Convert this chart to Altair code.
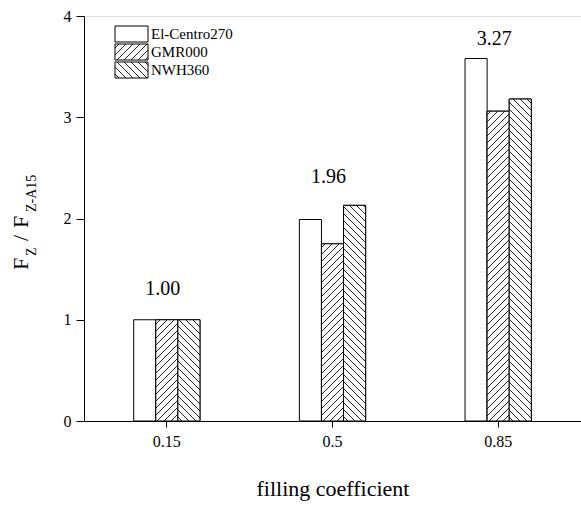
import altair as alt
import pandas as pd

# ---------------- data ----------------
categories = ["0.15", "0.5", "0.85"]
series = ["El-Centro270", "GMR000", "NWH360"]
el_centro = [1.00, 1.99, 3.58]
gmr000 = [1.00, 1.75, 3.06]
nwh360 = [1.00, 2.13, 3.18]
group_labels = ["1.00", "1.96", "3.27"]
label_y = [1.30, 2.41, 3.77]

# ---------------- layout ----------------
FONT = "Times New Roman, Liberation Serif, Times, serif"
W, H = 497, 405
YMAX = 4
PAD_INNER, PAD_OUTER = 0.6, 0.3
step = W / (len(categories) - PAD_INNER + 2 * PAD_OUTER)
bar_w = step * (1 - PAD_INNER) / len(series)
px_per_unit = H / YMAX


def hatch(w, h, kind, period=7.0, lw=1.1, ink="#222222"):
    """Diagonal hatching as a hard-stop linear gradient (45 degrees in pixel space)."""
    L = w + h
    k = L / (w * w + h * h)
    gu, gv = k * w, k * h
    if kind == "/":
        x1, y1, x2, y2 = 0, 0, gu, gv
    else:
        x1, y1, x2, y2 = 0, 1, gu, 1 - gv
    stops = [alt.GradientStop(color="white", offset=0)]
    pos = period / 2
    while pos + lw < L:
        a = round(pos / L, 6)
        b = round((pos + lw) / L, 6)
        stops += [
            alt.GradientStop(color="white", offset=a),
            alt.GradientStop(color=ink, offset=a),
            alt.GradientStop(color=ink, offset=b),
            alt.GradientStop(color="white", offset=b),
        ]
        pos += period
    stops.append(alt.GradientStop(color="white", offset=1))
    return alt.LinearGradient(gradient="linear", stops=stops,
                              x1=x1, y1=y1, x2=x2, y2=y2)


values_by_series = {"El-Centro270": el_centro, "GMR000": gmr000, "NWH360": nwh360}
rows = []
for i, c in enumerate(categories):
    for s in series:
        rows.append({"coef": c, "series": s, "value": values_by_series[s][i]})
df = pd.DataFrame(rows)

df_lab = pd.DataFrame({"coef": categories, "label": group_labels, "value": label_y})
one = pd.DataFrame({"k": [0]})

x_enc = alt.X(
    "coef:N", sort=categories,
    scale=alt.Scale(paddingInner=PAD_INNER, paddingOuter=PAD_OUTER),
    axis=alt.Axis(title="filling coefficient", labelAngle=0, tickSize=6,
                  labelPadding=6, labelFontSize=16, labelFont=FONT,
                  titleFont=FONT, titleFontSize=22, titleFontWeight="normal",
                  titlePadding=29, domainColor="black", tickColor="black",
                  labelColor="black", titleColor="black", grid=False),
)
xo_enc = alt.XOffset("series:N", sort=series, scale=alt.Scale(domain=series))
y_enc = alt.Y(
    "value:Q", scale=alt.Scale(domain=[0, YMAX]),
    axis=alt.Axis(title=None, values=[0, 1, 2, 3, 4], format="d", tickSize=8,
                  labelPadding=5, labelFontSize=16, labelFont=FONT,
                  domainColor="black", tickColor="black", labelColor="black",
                  grid=False),
)

layers = []
base = alt.Chart(df).mark_bar(fill="white", stroke="black", strokeWidth=1).encode(
    x=x_enc, xOffset=xo_enc, y=y_enc)
layers.append(base)

for s, kind in [("GMR000", "/"), ("NWH360", "\\")]:
    for i, c in enumerate(categories):
        h = values_by_series[s][i] * px_per_unit
        layers.append(
            alt.Chart(df)
            .transform_filter((alt.datum.series == s) & (alt.datum.coef == c))
            .mark_bar(fill=hatch(bar_w, h, kind), stroke="black", strokeWidth=1)
            .encode(x=x_enc, xOffset=xo_enc, y=y_enc)
        )

# group value labels
layers.append(
    alt.Chart(df_lab).mark_text(font=FONT, fontSize=20, dx=-4, baseline="middle",
                                color="black")
    .encode(x=x_enc, y=y_enc, text="label:N")
)

# manual legend
LEG_X, LEG_W, LEG_H, LEG_TOP, LEG_PITCH = 31, 33, 16, 10, 18
leg_fills = ["white", hatch(LEG_W, LEG_H, "/"), hatch(LEG_W, LEG_H, "\\")]
for j, s in enumerate(series):
    top = LEG_TOP + j * LEG_PITCH
    layers.append(
        alt.Chart(one).mark_rect(fill=leg_fills[j], stroke="black", strokeWidth=1)
        .encode(x=alt.value(LEG_X), x2=alt.value(LEG_X + LEG_W),
                y=alt.value(top), y2=alt.value(top + LEG_H))
    )
    layers.append(
        alt.Chart(one).mark_text(font=FONT, fontSize=15, align="left",
                                 baseline="middle", color="black")
        .encode(x=alt.value(LEG_X + LEG_W + 3), y=alt.value(top + LEG_H / 2),
                text=alt.value(s))
    )

# y-axis title: F_Z / F_Z-A15 (rotated, with subscripts)
title_parts = [("F", 22, -56, 254), ("Z", 14, -48, 240), ("/", 22, -56, 225),
               ("F", 22, -56, 212), ("Z-A15", 14, -48, 196)]
for txt, fs, xp, yp in title_parts:
    layers.append(
        alt.Chart(one).mark_text(font=FONT, fontSize=fs, angle=270, align="left",
                                 baseline="alphabetic", color="black")
        .encode(x=alt.value(xp), y=alt.value(yp), text=alt.value(txt))
    )

chart = (
    alt.layer(*layers)
    .properties(width=W, height=H,
                autosize=alt.AutoSizeParams(type="none"),
                padding={"left": 84, "top": 16, "right": 0, "bottom": 85})
    .configure_view(stroke=None)
    .configure(background="white")
)

chart.save("out.html", embed_options={"renderer": "svg", "actions": False})
